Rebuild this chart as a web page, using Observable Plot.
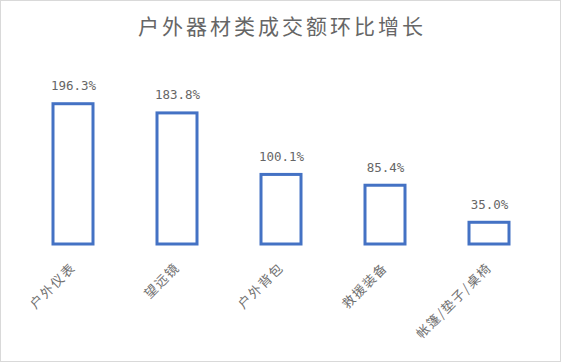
<!DOCTYPE html>
<html>
<head>
<meta charset="utf-8">
<script src="https://cdn.jsdelivr.net/npm/d3@7"></script>
<script src="https://cdn.jsdelivr.net/npm/@observablehq/plot@0.6"></script>
<style>
  html, body { margin: 0; padding: 0; background: #fff; }
  #wrap { position: relative; width: 561px; height: 362px; overflow: hidden; background: #fff; }
  #title { position: absolute; left: 0; top: 15px; width: 561px; padding-left: 3px; box-sizing: border-box;
           text-align: center; font-family: "Noto Sans CJK SC", sans-serif; font-size: 21px; line-height: 21px;
           letter-spacing: 3px; color: #666666; white-space: nowrap; }
  #border { position: absolute; left: 0; top: 0; width: 561px; height: 362px; box-sizing: border-box;
            border: 1px solid #d9d9d9; pointer-events: none; }
  #wrap svg { position: absolute; left: 0; top: 0; }
</style>
</head>
<body>
<div id="wrap">
  <div id="title">户外器材类成交额环比增长</div>
  <div id="border"></div>
</div>
<script>
const categories = ["户外仪表", "望远镜", "户外背包", "救援装备", "帐篷/垫子/桌椅"];
const values = [196.3, 183.8, 100.1, 85.4, 35.0];
const valueLabels = ["196.3%", "183.8%", "100.1%", "85.4%", "35.0%"];

const data = categories.map((c, i) => ({category: c, value: values[i], label: valueLabels[i]}));

const chart = Plot.plot({
  width: 561,
  height: 362,
  marginLeft: 51.5,
  marginRight: 51,
  marginTop: 101,
  marginBottom: 114,
  style: {background: "transparent"},
  x: {domain: categories, paddingInner: 0.62, paddingOuter: 0, axis: null},
  y: {domain: [0, 200], axis: null},
  marks: [
    Plot.barY(data, {x: "category", y: "value", fill: "white", stroke: "#4472C4", strokeWidth: 3, insetBottom: 4}),
    Plot.text(data, {x: "category", y: "value", text: "label", dy: -18,
      fontFamily: "DejaVu Sans Mono", fontSize: 12.5, fill: "#666666"}),
    Plot.text(data, {x: "category", frameAnchor: "bottom", text: "category", rotate: -45,
      textAnchor: "end", dx: 3, dy: 20, fontSize: 13, fill: "#707070",
      fontFamily: "Noto Sans CJK SC"})
  ]
});

const groups = d3.select(chart).selectAll("g[aria-label='text']");
groups.filter((d, i) => i === 1).selectAll("text").style("letter-spacing", "1.5px");

document.getElementById("wrap").insertBefore(chart, document.getElementById("border"));
</script>
</body>
</html>
